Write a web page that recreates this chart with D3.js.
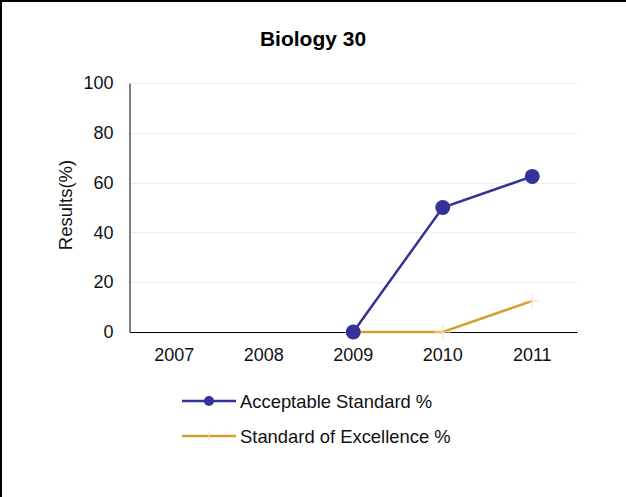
<!DOCTYPE html>
<html><head><meta charset="utf-8">
<script src="https://cdn.jsdelivr.net/npm/d3@7"></script>
<style>body{margin:0;background:#fff}svg{display:block;font-family:"Liberation Sans",Arial,sans-serif}</style>
</head><body><svg id="c" width="626" height="497"></svg>
<script>
const categories = ["2007","2008","2009","2010","2011"];
const acceptable = [null,null,0,50,62.5];
const excellence = [null,null,0,0,12.5];
const yTicks = [0,20,40,60,80,100];
const seriesNames = ["Acceptable Standard %","Standard of Excellence %"];

const svg = d3.select("#c");
svg.append("rect").attr("x",0).attr("y",0).attr("width",626).attr("height",497).attr("fill","#fff");
svg.append("line").attr("x1",0).attr("x2",626).attr("y1",1).attr("y2",1).attr("stroke","#000").attr("stroke-width",2);
svg.append("line").attr("x1",1).attr("x2",1).attr("y1",0).attr("y2",497).attr("stroke","#000").attr("stroke-width",2);

const L=129.5,R=577,T=83,B=332;
const x = d3.scaleBand().domain(categories).range([L,R]);
const y = d3.scaleLinear().domain([0,100]).range([B,T]);
const FS = 18;

svg.append("text").attr("x",313).attr("y",46).attr("text-anchor","middle").attr("font-weight","bold").attr("font-size",21).text("Biology 30");

svg.append("g").selectAll("line").data(yTicks.filter(d=>d>0)).join("line")
 .attr("x1",L).attr("x2",R).attr("y1",d=>Math.round(y(d))+0.5).attr("y2",d=>Math.round(y(d))+0.5).attr("stroke","#eeeeee");

const ya = svg.append("g").attr("transform",`translate(${L},0)`).call(d3.axisLeft(y).tickValues(yTicks).tickSize(0).tickPadding(16));
ya.select(".domain").attr("stroke","#000");
ya.selectAll("text").attr("font-size",FS).attr("fill","#111").attr("font-family","Liberation Sans, Arial, sans-serif");

const xa = svg.append("g").attr("transform",`translate(0,${B})`).call(d3.axisBottom(x).tickSize(0).tickPadding(16));
xa.select(".domain").attr("stroke","#000");
xa.selectAll("text").attr("font-size",FS).attr("fill","#111").attr("font-family","Liberation Sans, Arial, sans-serif");

svg.append("text").attr("transform","translate(72,205) rotate(-90)").attr("text-anchor","middle").attr("font-size",18.5).attr("fill","#111").text("Results(%)");

const cx = c=>x(c)+x.bandwidth()/2;
const line = d3.line().defined(d=>d.v!==null).x(d=>cx(d.c)).y(d=>y(d.v));
const exData = categories.map((c,i)=>({c,v:excellence[i]}));
const acData = categories.map((c,i)=>({c,v:acceptable[i]}));
const blue="#333399", gold="#d4a030";

svg.append("path").datum(exData).attr("d",line).attr("fill","none").attr("stroke",gold).attr("stroke-width",2.5);
svg.append("g").selectAll("g").data(exData.filter(d=>d.v!==null)).join("g").each(function(d){
  const g=d3.select(this);const px=cx(d.c),py=y(d.v);
  g.append("line").attr("x1",px-8).attr("x2",px+8).attr("y1",py).attr("y2",py).attr("stroke","#f3e2bd").attr("stroke-width",1);
  g.append("line").attr("x1",px).attr("x2",px).attr("y1",py-8).attr("y2",py+8).attr("stroke","#f3e2bd").attr("stroke-width",1);
});
svg.append("path").datum(acData).attr("d",line).attr("fill","none").attr("stroke",blue).attr("stroke-width",2.5);
svg.append("g").selectAll("circle").data(acData.filter(d=>d.v!==null)).join("circle")
 .attr("cx",d=>cx(d.c)).attr("cy",d=>y(d.v)).attr("r",7.5).attr("fill",blue);

const lg = svg.append("g");
const items=[{n:seriesNames[0],c:blue,m:true},{n:seriesNames[1],c:gold,m:false}];
items.forEach((it,i)=>{
  const yy=401+i*35;
  lg.append("line").attr("x1",182).attr("x2",236).attr("y1",yy).attr("y2",yy).attr("stroke",it.c).attr("stroke-width",2.5);
  if(it.m) lg.append("circle").attr("cx",209).attr("cy",yy).attr("r",5).attr("fill",it.c);
  else lg.append("line").attr("x1",209).attr("x2",209).attr("y1",yy-5).attr("y2",yy+5).attr("stroke","#f3e2bd");
  lg.append("text").attr("x",240).attr("y",yy+6.5).attr("font-size",18.4).attr("fill","#111").text(it.n);
});
</script></body></html>
